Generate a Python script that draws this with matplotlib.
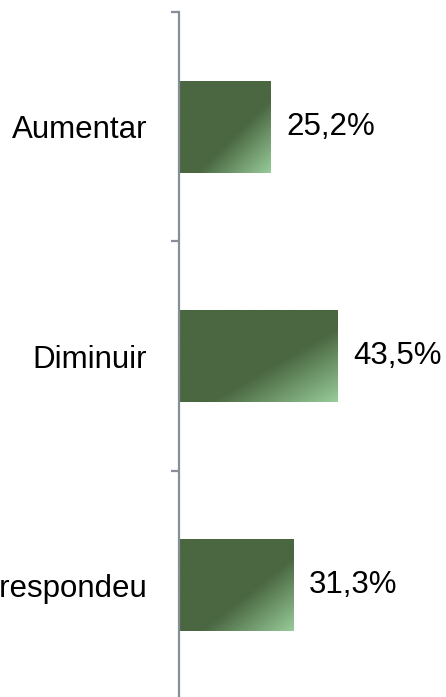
import numpy as np
import matplotlib
matplotlib.use("Agg")
import matplotlib.pyplot as plt
from matplotlib.colors import to_rgb

# data
categories = ["Aumentar", "Diminuir", "Não respondeu"]
values = [25.2, 43.5, 31.3]

plt.rcParams['font.family'] = ['Liberation Sans', 'DejaVu Sans']

fig = plt.figure(figsize=(4.46, 6.97), dpi=100)
ax = fig.add_axes([179 / 446, -3 / 697, 267 / 446, 688 / 697])

pos = np.arange(len(categories))
bars = ax.barh(pos, values, height=0.4, facecolor="none", edgecolor="none")

# diagonal gradient fill: dark green, lighter towards bottom-right corner
dark = np.array(to_rgb("#4a6741"))
light = np.array(to_rgb("#98cc9a"))
u = np.linspace(0, 1, 200)
uu, vv = np.meshgrid(u, u)
t = (uu + vv) / 2
t = np.clip((t - 0.6) / 0.4, 0, 1)[..., None]
grad = dark * (1 - t) + light * t

for b in bars:
    x0, y0 = b.get_x(), b.get_y()
    w, h = b.get_width(), b.get_height()
    im = ax.imshow(grad, extent=(x0, x0 + w, y0 + h, y0), origin="upper",
                   aspect="auto", interpolation="bilinear", zorder=2)
    im.set_clip_path(b)

for b, v in zip(bars, values):
    ax.annotate(f"{v:.1f}%".replace(".", ","),
                xy=(b.get_width(), b.get_y() + b.get_height() / 2),
                xytext=(11, 0), textcoords="offset points",
                va="center", ha="left", fontsize=22.5, color="black")

ax.set_xlim(0, 267 / 3.65)
ax.set_ylim(len(categories) - 0.5, -0.5)

for s in ["top", "right", "bottom"]:
    ax.spines[s].set_visible(False)
ax.spines["left"].set_color("#878e98")
ax.spines["left"].set_linewidth(1.6)

ax.set_xticks([])
ax.set_yticks(pos)
ax.set_yticklabels(categories, fontsize=22.5)
ax.tick_params(axis="y", which="major", length=0, pad=23)
ax.set_yticks(np.arange(-0.5, len(categories)), minor=True)
ax.tick_params(axis="y", which="minor", length=6, width=1.6, color="#878e98")

fig.savefig("out.png", dpi=100)
